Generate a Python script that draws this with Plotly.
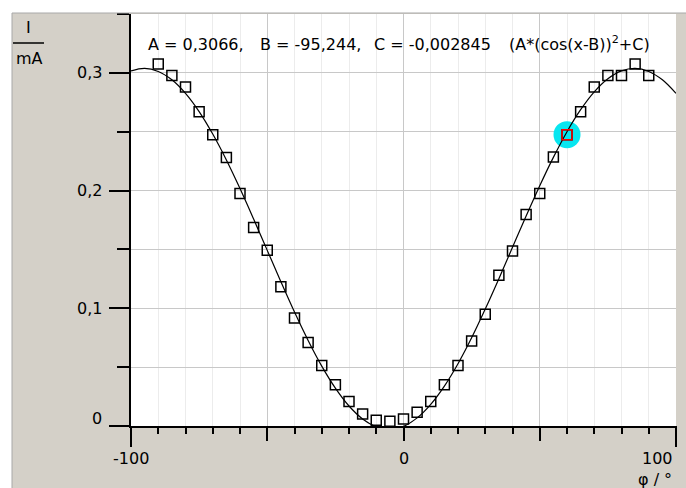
import plotly.graph_objects as go

# ---------------- data ----------------
phi_meas = [-90, -85, -80, -75, -70, -65, -60, -55, -50, -45, -40, -35, -30,
            -25, -20, -15, -10, -5, 0, 5, 10, 15, 20, 25, 30, 35, 40, 45, 50,
            55, 60, 65, 70, 75, 80, 85, 90]
I_meas = [0.3076, 0.2977, 0.2879, 0.2669, 0.2475, 0.2282, 0.1975, 0.1686,
          0.1492, 0.1184, 0.0918, 0.0709, 0.0514, 0.0350, 0.0209, 0.0102,
          0.0048, 0.0040, 0.0059, 0.0116, 0.0209, 0.0350, 0.0514, 0.0723,
          0.0949, 0.1280, 0.1486, 0.1797, 0.1975, 0.2285, 0.2475, 0.2669,
          0.2879, 0.2977, 0.2977, 0.3076, 0.2977]

fit_phi = [-100, -95, -90, -85, -80, -75, -70, -65, -60, -55, -50, -45, -40,
           -35, -30, -25, -20, -15, -10, -5, 0, 5, 10, 15, 20, 25, 30, 35, 40,
           45, 50, 55, 60, 65, 70, 75, 80, 85, 90, 95, 100]
fit_I = [0.3017, 0.3038, 0.3012, 0.2941, 0.2826, 0.2671, 0.2480, 0.2260,
         0.2017, 0.1758, 0.1492, 0.1226, 0.0968, 0.0727, 0.0509, 0.0322,
         0.0170, 0.0060, -0.0007, -0.0028, -0.0003, 0.0069, 0.0184, 0.0339,
         0.0529, 0.0749, 0.0993, 0.1251, 0.1518, 0.1784, 0.2041, 0.2282,
         0.2500, 0.2687, 0.2839, 0.2950, 0.3017, 0.3038, 0.3012, 0.2941,
         0.2826]

sel_phi = [60]
sel_I = [0.2475]

fit_texts = ["A = 0,3066,", "B = -95,244,", "C = -0,002845",
             "(A*(cos(x-B))<sup>2</sup>+C)"]

x_tick_vals = [-100, 0, 100]
x_tick_text = ["-100", "0", "100"]
y_tick_vals = [0, 0.1, 0.2, 0.3]
y_tick_text = ["0", "0,1", "0,2", "0,3"]

x_title = "φ / °"
y_title_num = "I"
y_title_den = "mA"

# ---------------- layout geometry ----------------
W, H = 686, 488
L, R, T, B = 131, 10, 14, 62
PW = W - L - R
PH = H - T - B
XR = [-100, 100]
YR = [0, 0.35]


def px(x):
    return (x - L) / PW


def py(y):
    return (H - B - y) / PH


def dx(pix):
    return XR[0] + (pix - L) / PW * (XR[1] - XR[0])


def dy(pix):
    return YR[0] + (H - B - pix) / PH * (YR[1] - YR[0])


FONT = "DejaVu Sans"
FS = 16
GRAY = "#d4d0c8"

fit_text_px = [148, 260, 374, 509]
fit_text_x = [dx(p) for p in fit_text_px]
fit_text_y = [dy(45.5)] * len(fit_texts)

fig = go.Figure()

# highlight of the selected point (under everything)
fig.add_trace(go.Scatter(
    x=sel_phi, y=sel_I, mode="markers",
    marker=dict(symbol="circle", size=27, color="#08e6f0", line=dict(width=0)),
    hoverinfo="skip", showlegend=False, cliponaxis=True))

# fit curve
fig.add_trace(go.Scatter(
    x=fit_phi, y=fit_I, mode="lines",
    line=dict(color="black", width=1.2, shape="spline", smoothing=1.0),
    showlegend=False, cliponaxis=True))

# measured points
fig.add_trace(go.Scatter(
    x=phi_meas, y=I_meas, mode="markers",
    marker=dict(symbol="square-open", size=10, color="black",
                line=dict(color="black", width=1.5)),
    showlegend=False, cliponaxis=True))

# selected point
fig.add_trace(go.Scatter(
    x=sel_phi, y=sel_I, mode="markers",
    marker=dict(symbol="square-open", size=10, color="red",
                line=dict(color="red", width=1.5)),
    showlegend=False, cliponaxis=True))

# fit parameter text (clipped by plot area)
fig.add_trace(go.Scatter(
    x=fit_text_x, y=fit_text_y, mode="text", text=fit_texts,
    textposition="middle right",
    textfont=dict(family=FONT, size=FS, color="black"),
    hoverinfo="skip", showlegend=False, cliponaxis=True))

shapes = [
    # white frame strips outside the gray panel
    dict(type="rect", xref="paper", yref="paper", x0=px(0), x1=px(W),
         y0=py(13), y1=py(0), fillcolor="white", line=dict(width=0),
         layer="below"),
    dict(type="rect", xref="paper", yref="paper", x0=px(0), x1=px(12),
         y0=py(H), y1=py(13), fillcolor="white", line=dict(width=0),
         layer="below"),
    # gray panel border
    dict(type="line", xref="paper", yref="paper", x0=px(12), x1=px(W),
         y0=py(13), y1=py(13), line=dict(color="#a8a8a8", width=1)),
    dict(type="line", xref="paper", yref="paper", x0=px(12), x1=px(12),
         y0=py(13), y1=py(H), line=dict(color="#a8a8a8", width=1)),
    # long end ticks on x axis
    dict(type="line", xref="paper", yref="paper", x0=0, x1=0,
         y0=py(426), y1=py(447), line=dict(color="black", width=2)),
    dict(type="line", xref="paper", yref="paper", x0=1, x1=1,
         y0=py(426), y1=py(447), line=dict(color="black", width=2)),
    # y title fraction bar
    dict(type="line", xref="paper", yref="paper", x0=px(13), x1=px(44),
         y0=py(43), y1=py(43), line=dict(color="black", width=1.5)),
]

annotations = []
for v, t in zip(y_tick_vals, y_tick_text):
    annotations.append(dict(
        xref="paper", yref="y", x=px(104), y=v, text=t, showarrow=False,
        xanchor="right", yanchor="middle", yshift=8 if v == 0 else 0,
        font=dict(family=FONT, size=FS, color="black")))
for v, t in zip(x_tick_vals, x_tick_text):
    if v == XR[1]:
        annotations.append(dict(
            xref="paper", yref="paper", x=px(675), y=py(458), text=t,
            showarrow=False, xanchor="right", yanchor="middle",
            font=dict(family=FONT, size=FS, color="black")))
    else:
        annotations.append(dict(
            xref="x", yref="paper", x=v, y=py(458), text=t,
            showarrow=False, xanchor="center", yanchor="middle",
            font=dict(family=FONT, size=FS, color="black")))
annotations.append(dict(
    xref="paper", yref="paper", x=px(674), y=py(479), text=x_title,
    showarrow=False, xanchor="right", yanchor="middle",
    font=dict(family=FONT, size=FS, color="black")))
annotations.append(dict(
    xref="paper", yref="paper", x=px(28.5), y=py(28), text=y_title_num,
    showarrow=False, xanchor="center", yanchor="middle",
    font=dict(family=FONT, size=FS, color="black")))
annotations.append(dict(
    xref="paper", yref="paper", x=px(29.5), y=py(58.5), text=y_title_den,
    showarrow=False, xanchor="center", yanchor="middle",
    font=dict(family=FONT, size=FS, color="black")))

fig.update_layout(
    width=W, height=H,
    margin=dict(l=L, r=R, t=T, b=B, pad=0),
    paper_bgcolor=GRAY, plot_bgcolor="white",
    showlegend=False,
    shapes=shapes, annotations=annotations,
    xaxis=dict(
        range=XR, showticklabels=False, zeroline=False,
        showline=True, linecolor="black", linewidth=2,
        ticks="outside", tickmode="linear", tick0=-100, dtick=50,
        ticklen=13, tickwidth=2, tickcolor="black",
        showgrid=True, gridcolor="#c8c8c8", gridwidth=1,
        minor=dict(dtick=10, tick0=-100, ticks="outside", ticklen=6,
                   tickwidth=1.5, tickcolor="black", showgrid=True,
                   gridcolor="#ececec", gridwidth=1),
        fixedrange=True),
    yaxis=dict(
        range=YR, showticklabels=False, zeroline=False,
        showline=True, linecolor="black", linewidth=2,
        ticks="outside", tickmode="linear", tick0=0, dtick=0.1,
        ticklen=20, tickwidth=2, tickcolor="black",
        showgrid=True, gridcolor="#c8c8c8", gridwidth=1,
        minor=dict(dtick=0.05, tick0=0, ticks="outside", ticklen=12,
                   tickwidth=1.5, tickcolor="black", showgrid=True,
                   gridcolor="#c8c8c8", gridwidth=1),
        fixedrange=True),
)

fig.write_html(
    "out.html",
    config={"displayModeBar": False},
    post_script="document.body.style.margin='0';document.body.style.padding='0';",
)
